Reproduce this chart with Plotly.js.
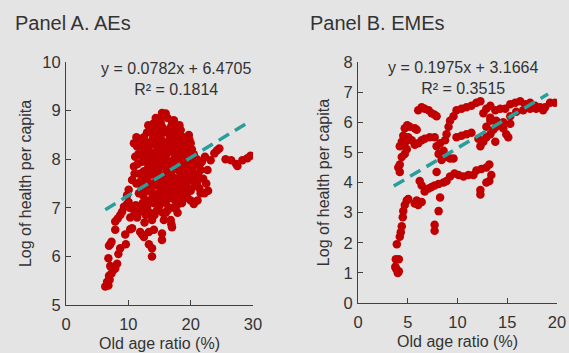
<!DOCTYPE html>
<html>
<head>
<meta charset="utf-8">
<script src="https://cdn.plot.ly/plotly-3.0.1.min.js"></script>
<style>html,body{margin:0;padding:0;background:#e4e4e4;}#chart{width:569px;height:353px;}</style>
</head>
<body>
<div id="chart"></div>
<script>
// Panel A (AEs): old age ratio (%) vs log of health per capita
const aeX = [6.3,6.8,6.6,7.0,6.9,7.3,7.1,7.6,7.9,8.2,6.8,6.9,7.1,7.3,8.7,8.4,7.9,7.9,8.3,8.7,9.0,9.5,9.3,9.8,10.05,10.3,10.3,10.6,10.2,9.6,
  11.4,11.6,11.9,12.5,12.2,13.3,13.3,13.8,13.8,13.8,14.1,14.2,15.4,15.4,15.7,16.0,16.8,17.0,16.9,17.3,12.0,12.8,13.0,12.3,11.2,11.0,14.6,15.0,
  18.4,19.5,20.5,21.1,21.6,22.2,21.6,22.7,23.2,23.8,24.6,24.2,25.6,26.5,27.3,27.5,28.3,29.1,29.6,22.0,21.0,20.5,21.8,22.3,
  15.7,16.0,16.3,17.3,17.0,14.1,14.6,14.3,15.0,15.5,18.4,18.0,19.7,19.3,20.0,16.5,17.5,15.3,16.2,14.0,
  10.9,11.4,11.8,12.4,11.1,10.9,10.6,10.05,9.8,11.5,11.8,12.0,12.6,13.0,13.4,13.2,12.8,12.2,11.7,13.5,13.8,14.0,
  14.5,15.0,15.5,16.0,16.5,17.0,17.5,18.0,18.5,19.0,19.5,20.0,20.5,20.8,
  14.2,14.8,15.3,15.8,16.3,16.8,17.3,17.8,18.3,18.8,19.3,19.8,20.3,
  14.0,14.5,15.0,15.5,16.0,16.5,17.0,17.5,18.0,18.5,19.0,19.5,20.0,
  14.8,15.3,15.8,16.3,16.8,17.3,17.8,18.3,18.8,16.0,16.6,17.8,15.2,
  13.6,14.8,15.2,16.7,18.7,19.0,17.2,16.2,15.6,14.4,13.8,13.2,12.5,12.0,19.8,20.6,21.2,20.2,18.2,17.8,
  12.5,13.0,13.5,12.8,13.7,14.6,15.8,16.8,17.6,18.8,19.5,17.2,16.0,15.2,14.2,13.6,12.9,13.3,12.4,11.3,
  11.0,11.6,12.2,14.9,15.6,16.4,17.4,18.2,19.0,19.6,20.4,21.0,21.4,20.0,19.2,18.6,17.5,16.3,15.5,14.3,
  13.5,12.6,17.9,18.3,19.8,18.9,16.9,15.7,14.9,13.9,13.1,12.0,11.3,13.2,14.4,15.4,17.8,20.7,21.5,22.5,
  22.8,16.5,17.7,15.0,14.0,13.0];
const aeY = [5.38,5.40,5.48,5.52,5.60,5.65,5.80,5.72,5.75,5.85,5.96,6.22,6.25,6.30,6.17,6.05,6.55,6.72,6.78,6.85,6.92,6.45,7.02,7.08,7.12,6.80,6.56,6.58,7.00,6.25,
  6.80,6.90,6.50,6.40,6.45,6.50,6.25,6.17,6.00,6.75,6.55,6.85,6.47,6.34,6.75,6.90,6.75,6.60,6.66,7.00,6.95,6.85,7.00,7.10,7.05,6.90,6.95,7.05,
  7.15,7.20,7.08,7.15,7.30,7.30,7.78,7.78,7.98,8.12,8.22,8.18,8.00,7.98,7.90,7.86,7.98,8.02,8.07,7.60,7.50,7.70,7.95,8.05,
  8.90,8.94,8.85,8.80,8.72,8.74,8.70,8.60,8.55,8.65,8.60,8.50,8.50,8.42,8.33,8.60,8.55,8.40,8.35,8.45,
  8.33,8.26,8.30,8.25,8.05,7.85,7.57,7.37,7.26,7.90,7.70,8.10,8.00,8.30,8.15,7.85,7.60,7.40,7.30,7.50,7.30,7.10,
  8.30,8.20,8.10,8.20,8.15,8.30,8.35,8.25,8.30,8.20,8.10,8.00,8.10,7.90,
  8.00,7.95,7.85,7.90,7.95,7.85,8.00,7.90,7.95,7.85,7.80,7.70,7.60,
  7.75,7.60,7.70,7.55,7.60,7.50,7.65,7.55,7.60,7.50,7.45,7.40,7.35,
  7.30,7.35,7.25,7.30,7.20,7.35,7.25,7.35,7.25,7.10,7.00,7.05,7.15,
  8.60,8.80,8.75,8.45,8.00,7.65,7.40,7.75,8.30,8.15,7.95,7.65,7.75,7.55,7.95,7.45,7.70,8.20,8.70,8.10,
  8.45,8.55,8.35,8.15,8.10,8.45,8.55,8.65,8.70,8.45,8.30,8.15,8.05,7.95,7.85,7.70,7.35,7.15,7.25,7.50,
  7.70,8.10,7.95,7.45,7.40,7.45,7.80,7.75,7.95,7.55,7.85,8.00,7.40,7.15,7.30,7.10,7.15,6.95,6.90,7.20,
  6.90,6.70,6.90,7.45,8.40,8.15,8.45,8.20,8.05,8.30,8.00,8.40,8.45,8.70,8.85,8.95,8.35,7.60,7.90,7.50,
  7.35,7.85,7.60,7.85,7.45,7.45];
const aeFitX = [6.3, 29.0];
const aeFitY = [6.96, 8.74];

// Panel B (EMEs)
const emeX = [3.8,4.1,3.75,3.9,4.0,4.1,3.8,3.9,4.2,4.3,4.4,4.5,4.55,4.7,4.9,5.05,
  5.7,5.9,6.05,6.4,6.2,6.4,6.7,7.1,7.4,7.7,8.1,7.9,7.7,7.7,8.1,8.25,
  8.6,8.9,9.25,9.7,10.1,10.6,11.1,11.6,11.9,12.4,12.9,13.2,12.3,12.3,12.9,13.2,13.4,
  4.05,4.2,4.2,4.4,4.2,4.4,4.55,4.7,4.95,5.2,5.7,5.9,
  4.7,5.05,5.4,5.7,6.05,6.4,6.7,7.2,7.7,4.7,4.9,
  6.05,6.4,6.7,7.1,7.4,7.7,7.9,
  7.9,8.1,8.25,8.4,8.6,8.75,8.9,9.1,9.25,9.6,9.9,10.4,10.9,11.4,11.9,12.3,
  8.75,9.25,9.6,9.9,10.4,10.9,11.4,
  12.1,12.3,12.6,12.9,13.3,13.6,13.9,14.3,14.6,13.8,14.9,15.1,
  12.6,12.9,13.3,13.8,14.3,14.8,15.3,15.8,16.3,16.8,17.3,17.8,18.3,18.8,19.3,19.8,
  13.3,13.9,15.3,15.9,16.6,17.3,17.9,18.6,15.3,14.6,12.9,13.3];
const emeY = [1.45,1.45,1.20,1.10,1.00,1.05,1.15,1.95,2.20,2.35,2.55,2.85,3.05,3.25,3.40,3.45,
  3.30,3.40,3.25,3.35,4.05,3.90,3.70,3.80,3.85,3.90,3.95,4.35,2.60,2.40,3.05,3.50,
  4.00,4.05,4.20,4.30,4.25,4.20,4.25,4.25,4.40,4.45,4.50,4.60,3.75,3.60,4.00,4.05,4.25,
  4.50,4.60,4.35,4.85,5.20,5.35,5.55,5.80,5.90,5.85,5.80,5.75,
  5.30,5.50,5.40,5.25,5.30,5.40,5.45,5.50,5.50,4.95,5.10,
  6.40,6.50,6.45,6.40,6.30,6.25,6.20,
  5.20,4.95,5.30,4.75,5.05,5.40,5.60,5.85,6.05,6.20,6.40,6.45,6.50,6.55,6.65,6.70,
  4.85,4.80,4.80,5.50,5.55,5.60,5.65,
  5.45,5.20,5.35,5.50,5.60,5.75,5.85,5.95,6.00,5.35,5.60,5.50,
  6.30,6.45,6.55,6.40,6.45,6.45,6.60,6.65,6.70,6.60,6.65,6.55,6.50,6.50,6.65,6.65,
  6.15,6.05,6.20,6.35,6.40,6.45,6.45,6.40,5.95,5.80,5.85,6.05];
const emeFitX = [3.6, 19.1];
const emeFitY = [3.88, 6.94];

const red = '#c00000';
const teal = '#2a9e9b';
const txt = '#333333';
const fam = 'Liberation Sans, Arial, sans-serif';
const axisCommon = {
  showgrid: false, zeroline: false, showline: true, linecolor: '#404040', linewidth: 1,
  ticks: 'inside', ticklen: 5, tickcolor: '#404040', tickfont: {family: fam, size: 16.5, color: txt},
  fixedrange: true
};
const titleFont = {family: fam, size: 16, color: txt};

const traces = [
  {x: aeX, y: aeY, type: 'scatter', mode: 'markers', xaxis: 'x', yaxis: 'y',
   marker: {color: red, size: 8.5}, hoverinfo: 'skip'},
  {x: aeFitX, y: aeFitY, type: 'scatter', mode: 'lines', xaxis: 'x', yaxis: 'y',
   line: {color: teal, width: 3.5, dash: '12px,7px'}, hoverinfo: 'skip'},
  {x: emeX, y: emeY, type: 'scatter', mode: 'markers', xaxis: 'x2', yaxis: 'y2',
   marker: {color: red, size: 8.5}, hoverinfo: 'skip'},
  {x: emeFitX, y: emeFitY, type: 'scatter', mode: 'lines', xaxis: 'x2', yaxis: 'y2',
   line: {color: teal, width: 3.5, dash: '12px,7px'}, hoverinfo: 'skip'}
];

const W = 569, H = 353;
const layout = {
  width: W, height: H, margin: {l: 0, r: 0, t: 0, b: 0},
  paper_bgcolor: '#e4e4e4', plot_bgcolor: '#e4e4e4', showlegend: false,
  font: {family: fam, color: txt},
  xaxis: Object.assign({}, axisCommon, {domain: [66/W, 253/W], range: [0, 30], tickvals: [0,10,20,30], anchor: 'y',
    ticklabelstandoff: 4, title: {text: 'Old age ratio (%)', font: titleFont, standoff: 6}}),
  yaxis: Object.assign({}, axisCommon, {domain: [1-305/H, 1-62/H], range: [5, 10], tickvals: [5,6,7,8,9,10], anchor: 'x',
    ticklabelstandoff: 1, title: {text: 'Log of health per capita', font: titleFont, standoff: 6}}),
  xaxis2: Object.assign({}, axisCommon, {domain: [358/W, 557/W], range: [0, 20], tickvals: [0,5,10,15,20], anchor: 'y2',
    ticklabelstandoff: 4, title: {text: 'Old age ratio (%)', font: titleFont, standoff: 6}}),
  yaxis2: Object.assign({}, axisCommon, {domain: [1-303/H, 1-62/H], range: [0, 8], tickvals: [0,1,2,3,4,5,6,7,8], anchor: 'x2',
    ticklabelstandoff: 1, title: {text: 'Log of health per capita', font: titleFont, standoff: 9}}),
  annotations: [
    {text: 'Panel A. AEs', xref: 'paper', yref: 'paper', x: 13/W, y: 1-23/H, xanchor: 'left', yanchor: 'middle',
     showarrow: false, font: {size: 20, color: txt}},
    {text: 'Panel B. EMEs', xref: 'paper', yref: 'paper', x: 308/W, y: 1-23/H, xanchor: 'left', yanchor: 'middle',
     showarrow: false, font: {size: 20, color: txt}},
    {text: 'y = 0.0782x + 6.4705<br>R² = 0.1814', xref: 'paper', yref: 'paper', x: 176/W, y: 1-79/H, xanchor: 'center', yanchor: 'middle',
     showarrow: false, font: {size: 16, color: txt}},
    {text: 'y = 0.1975x + 3.1664<br>R² = 0.3515', xref: 'paper', yref: 'paper', x: 463/W, y: 1-78/H, xanchor: 'center', yanchor: 'middle',
     showarrow: false, font: {size: 16, color: txt}}
  ]
};

Plotly.newPlot('chart', traces, layout, {displayModeBar: false, staticPlot: true});
</script>
</body>
</html>
